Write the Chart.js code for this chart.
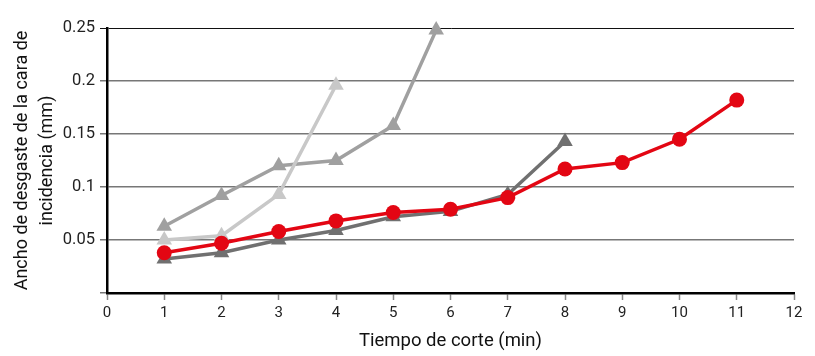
<!DOCTYPE html>
<html>
<head>
<meta charset="utf-8">
<script src="https://cdn.jsdelivr.net/npm/chart.js@4.4.0/dist/chart.umd.min.js"></script>
<style>
  html, body { margin: 0; padding: 0; background: #fff; }
  #wrap { width: 815px; height: 356px; }
</style>
</head>
<body>
<div id="wrap"><canvas id="chartDesgaste"></canvas></div>
<script>
// Desgaste de la cara de incidencia frente al tiempo de corte
const X_RED = [1, 2, 3, 4, 5, 6, 7, 8, 9, 10, 11];
const Y_RED = [0.038, 0.047, 0.058, 0.068, 0.076, 0.079, 0.09, 0.117, 0.123, 0.145, 0.182];

const X_DARK = [1, 2, 3, 4, 5, 6, 7, 8];
const Y_DARK = [0.032, 0.038, 0.05, 0.059, 0.072, 0.077, 0.093, 0.143];

const X_LIGHT = [1, 2, 3, 4];
const Y_LIGHT = [0.05, 0.054, 0.093, 0.196];

const X_MID = [1, 2, 3, 4, 5, 5.75];
const Y_MID = [0.063, 0.092, 0.12, 0.125, 0.158, 0.248];

const X_TICKS = [0, 1, 2, 3, 4, 5, 6, 7, 8, 9, 10, 11, 12];
const Y_TICKS = [0, 0.05, 0.1, 0.15, 0.2, 0.25];

const FONT = 'Roboto, sans-serif';

const pts = (xs, ys) => xs.map((x, i) => ({ x, y: ys[i] }));

function serie(xs, ys, color, shape, radius, order) {
  return {
    data: pts(xs, ys),
    borderColor: color,
    backgroundColor: color,
    borderWidth: 3.5,
    pointStyle: shape,
    pointRadius: radius,
    pointHoverRadius: radius,
    pointBorderWidth: 0,
    tension: 0,
    clip: false,
    order
  };
}

new Chart(document.getElementById('chartDesgaste').getContext('2d'), {
  type: 'line',
  data: {
    datasets: [
      serie(X_RED, Y_RED, '#e30613', 'circle', 7.5, 0),
      serie(X_DARK, Y_DARK, '#707070', 'triangle', 9, 1),
      serie(X_LIGHT, Y_LIGHT, '#c8c8c8', 'triangle', 9, 2),
      serie(X_MID, Y_MID, '#a0a0a0', 'triangle', 9, 3)
    ]
  },
  options: {
    responsive: true, maintainAspectRatio: false, animation: false,
    layout: { padding: { left: 0, top: 28, right: 21, bottom: 0 } },
    plugins: { legend: { display: false }, tooltip: { enabled: false } },
    scales: {
      x: {
        type: 'linear', min: 0, max: 12,
        afterFit: s => { s.height = 63; },
        afterBuildTicks: s => { s.ticks = X_TICKS.map(v => ({ value: v })); },
        border: { display: true, color: '#000', width: 2.5 },
        grid: { drawOnChartArea: false, drawTicks: true, tickLength: 7, tickColor: '#888', tickWidth: 1.5 },
        ticks: { color: '#222', font: { family: FONT, size: 15 }, padding: 4, maxRotation: 0 },
        title: { display: true, text: 'Tiempo de corte (min)', color: '#111', font: { family: FONT, size: 18.5 }, padding: { top: 0, bottom: 4 } }
      },
      y: {
        type: 'linear', min: 0, max: 0.25,
        afterFit: s => { s.width = 107; },
        afterBuildTicks: s => { s.ticks = Y_TICKS.map(v => ({ value: v })); },
        border: { display: true, color: '#000', width: 2.5 },
        grid: {
          color: c => (c.tick && c.tick.value === 0.25 ? '#111' : '#777'),
          lineWidth: c => (c.tick && c.tick.value === 0.25 ? 1 : 1.5),
          drawTicks: true, tickLength: 7
        },
        ticks: {
          color: '#222', font: { family: FONT, size: 16.5 }, padding: 5,
          callback: v => (v === 0 ? '' : String(v))
        },
        title: {
          display: true,
          text: ['Ancho de desgaste de la cara de', 'incidencia (mm)'],
          color: '#111', font: { family: FONT, size: 18, lineHeight: 1.39 },
          padding: { top: 10, bottom: 0 }
        }
      }
    }
  }
});
</script>
</body>
</html>
